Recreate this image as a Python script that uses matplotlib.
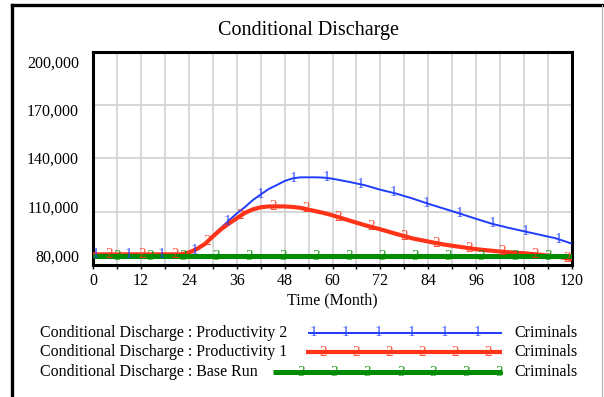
import matplotlib.pyplot as plt
import matplotlib.transforms as mtransforms
from matplotlib.lines import Line2D
import numpy as np

plt.rcParams['font.family'] = ['Liberation Serif', 'DejaVu Serif']

# Criminals discharged on condition, per month
time = [0, 4, 8, 12, 16, 20, 22, 24, 26, 28, 30, 32, 34, 36, 38, 40, 42, 44, 46,
        48, 50, 52, 56, 58, 60, 64, 68, 72, 76, 80, 84, 88, 92, 96, 100, 104,
        108, 112, 116, 120]
productivity_2 = [86000, 86000, 86000, 86000, 86000, 86000, 86000, 87000, 88800,
                  92000, 96500, 100800, 105000, 109000, 112500, 116500, 119700,
                  122800, 125000, 127300, 128800, 129400, 129400, 129200, 128600,
                  126900, 125000, 122400, 120200, 117500, 114500, 111700, 108900,
                  106000, 103200, 101000, 99000, 97000, 95000, 92000]
productivity_1 = [86000, 86000, 86000, 86000, 86000, 86000, 86000, 87000, 89000,
                  91800, 96000, 100000, 103300, 106300, 109300, 111300, 112500,
                  113000, 113000, 113000, 112700, 112200, 110200, 109200, 108000,
                  105200, 102500, 100100, 97500, 95000, 93200, 91500, 90200,
                  88900, 88000, 87200, 86600, 85800, 84800, 83400]
base_time = [0, 120]
base_run = [84800, 84800]

labels = ['Conditional Discharge : Productivity 2',
          'Conditional Discharge : Productivity 1',
          'Conditional Discharge : Base Run']
colors = ['#1f3cff', '#ff3318', '#008c00']
widths = [1.4, 3.0, 3.6]
digits = ['1', '2', '3']

W, H = 604, 397
fig = plt.figure(figsize=(W / 100, H / 100), dpi=100)

def fx(px):
    return px / W

def fy(py):
    return 1 - py / H

# outer frame (top and left heavy, right thin)
fig.add_artist(Line2D([fx(12), fx(602)], [fy(5), fy(5)], color='black', lw=2.4))
fig.add_artist(Line2D([fx(12), fx(12)], [fy(5), fy(397)], color='black', lw=2.4))
fig.add_artist(Line2D([fx(602), fx(602)], [fy(5), fy(397)], color='#b0b0b0', lw=0.8))

fig.text(fx(309), fy(31), 'Conditional Discharge', ha='center', va='center',
         fontsize=14.5)

ax = fig.add_axes([fx(93), fy(265), fx(572 - 93), (265 - 52) / H])
ax.set_xlim(0, 120)
ax.set_ylim(80000, 200000)
ax.set_xticks(np.arange(0, 121, 12))
ax.set_xticks(np.arange(0, 121, 6), minor=True)
ax.set_yticks([80000, 110000, 140000, 170000, 200000])
ax.set_yticklabels(['80,000', '110,000', '140,000', '170,000', '200,000'])
ax.grid(True, which='both', axis='x', color='#d3d3d3', lw=1.3)
ax.grid(True, which='major', axis='y', color='#d3d3d3', lw=1.3)
ax.set_axisbelow(True)
ax.tick_params(axis='x', which='both', direction='out', length=3, width=1,
               labelsize=11.5, pad=3)
ax.tick_params(axis='y', length=0, labelsize=11.5, pad=10)
for s in ax.spines.values():
    s.set_linewidth(2.2)
ax.set_xlabel('Time (Month)', fontsize=11.5, labelpad=2)

# y labels sit a little inside the tick positions
shifts = [9, 5, 1, -4, -10]
for lab, dy in zip(ax.get_yticklabels(), shifts):
    lab.set_transform(lab.get_transform() +
                      mtransforms.ScaledTranslation(0, dy / 100, fig.dpi_scale_trans))

series = [(time, productivity_2), (time, productivity_1), (base_time, base_run)]
mark_start = [0.5, 4.1, 6.0]
mark_step = [8.3, 8.2, 8.3]
for (t, v), c, w, d, m0, dm in zip(series, colors, widths, digits, mark_start, mark_step):
    ax.plot(t, v, color=c, lw=w, solid_capstyle='butt', zorder=3)
    for tm in np.arange(m0, 120.5, dm):
        ax.text(tm, np.interp(tm, t, v), d, color=c, fontsize=11, ha='center',
                va='center', zorder=4, clip_on=True, alpha=0.85)

# legend rows
rows_y = [333, 352, 372]
line_start = [308, 306, 273]
key_marks = [[313, 345.5, 378, 411, 444, 477.5],
             [323.5, 356, 389, 422, 455, 488.5],
             [301, 334, 367, 400.5, 433.5, 466, 499.5]]
for lab, c, w, d, y, x0, km in zip(labels, colors, widths, digits, rows_y,
                                   line_start, key_marks):
    fig.text(fx(40), fy(y), lab, ha='left', va='center', fontsize=11.5)
    fig.add_artist(Line2D([fx(x0), fx(502)], [fy(y), fy(y)], color=c, lw=w,
                          solid_capstyle='butt'))
    for xm in km:
        fig.text(fx(xm), fy(y), d, color=c, fontsize=11, ha='center', va='center',
                 alpha=0.85)
    fig.text(fx(514), fy(y), 'Criminals', ha='left', va='center', fontsize=11.5)

fig.savefig('out.png', dpi=100)
